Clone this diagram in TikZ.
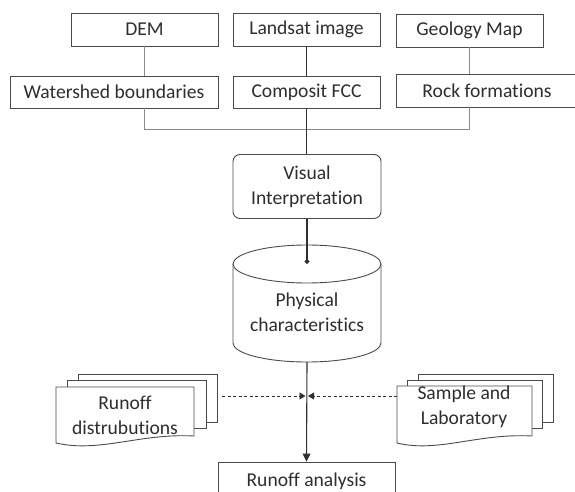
\documentclass[tikz,border=0pt]{standalone}
\usepackage{fontspec}
\setmainfont{Carlito}[Ligatures=NoCommon]
\usetikzlibrary{arrows.meta}
\definecolor{ink}{HTML}{2E2E2E}
\definecolor{edge}{HTML}{4A4A4A}
\definecolor{wire}{HTML}{8A8A8A}
\definecolor{trunk}{HTML}{303030}

\begin{document}
\begin{tikzpicture}[x=1pt,y=-1pt,
  every node/.style={font=\fontsize{19.6}{25}\selectfont, text=ink},
  box/.style={draw=edge, line width=0.9pt, fill=white, inner sep=0pt},
  doc/.style={draw=edge, line width=0.9pt, fill=white},
  wire/.style={draw=wire, line width=0.9pt},
  trunk/.style={draw=trunk, line width=1.1pt},
  feed/.style={draw=trunk, line width=0.9pt, dash pattern=on 3pt off 2.5pt,
    -{Triangle[length=6pt,width=7pt]}}]

\path[use as bounding box, clip] (0,0) rectangle (575,492);

% sources
\node[box, minimum width=147pt, minimum height=33pt] (dem)  at (144.5,29.5) {DEM};
\node[box, minimum width=147pt, minimum height=33pt] (land) at (306.5,29.5) {Landsat image};
\node[box, minimum width=147pt, minimum height=33pt] (geo)  at (469.5,30.5) {Geology Map};

% derived layers
\node[box, minimum width=208pt, minimum height=32pt] (wshed) at (114,92) {Watershed boundaries};
\node[box, minimum width=147pt, minimum height=32pt] (fcc)   at (306.5,92) {Composit FCC};
\node[box, minimum width=182pt, minimum height=33pt] (rock)  at (487,90.5) {Rock formations};

% interpretation
\node[box, rounded corners=7pt, minimum width=148pt, minimum height=64pt, align=center]
  (vis) at (307,186.5) {Visual\\Interpretation};

% database cylinder
\coordinate (cyltop) at (307,264);
\coordinate (cylbot) at (307,362);
\draw[doc] (233,264) -- (233,343)
  .. controls (233,353.5) and (266.1,362) .. (cylbot)
  .. controls (347.9,362) and (381,353.5) .. (381,343) -- (381,264);
\draw[doc] (cyltop) ellipse [x radius=74, y radius=19];
\node[align=center] (phys) at (307,312.5) {Physical\\characteristics};

% document stacks
\draw[doc] (78,374) rectangle (217,422);
\draw[doc] (67,380) rectangle (206,428);
\draw[doc] (56,387) -- (194,387) -- (194,436)
  .. controls (140,433) and (100,453) .. (56,443) -- cycle;
\node[align=center] (rdist) at (125,415) {Runoff\\distrubutions};

\draw[doc] (418,374) rectangle (553,422);
\draw[doc] (407,380) rectangle (542,428);
\draw[doc] (397,386) -- (532,386) -- (532,436)
  .. controls (478,433) and (438,453) .. (397,443) -- cycle;
\node[align=center] (slab) at (464,407) {Sample and\\Laboratory};

% result
\node[box, minimum width=177pt, minimum height=38pt] (runoff) at (306.5,481) {Runoff analysis};

% connectors
\coordinate (bus) at (0,129);
\draw[wire] (dem.south) -- (dem.south |- wshed.north);
\draw[wire] (geo.south) -- (geo.south |- rock.north);
\draw[wire] (dem.south |- wshed.south) -- (dem.south |- bus) -| (geo.south |- rock.south);
\draw[trunk, line width=0.9pt] (land.south) -- (fcc.north);
\draw[trunk, line width=0.9pt] (fcc.south) -- (fcc.south |- vis.north);
\draw[trunk, -{Circle[length=5pt]}] (vis.south) -- (cyltop);
\draw[trunk, -{Triangle[length=8pt,width=8pt]}] (cylbot) -- (runoff.north);

\coordinate (lfrom) at (222,396);
\coordinate (rfrom) at (397,396);
\coordinate (lmeet) at (305.5,396);
\coordinate (rmeet) at (308,396);
\draw[feed] (lfrom) -- (lmeet);
\draw[feed] (rfrom) -- (rmeet);
\end{tikzpicture}
\end{document}
